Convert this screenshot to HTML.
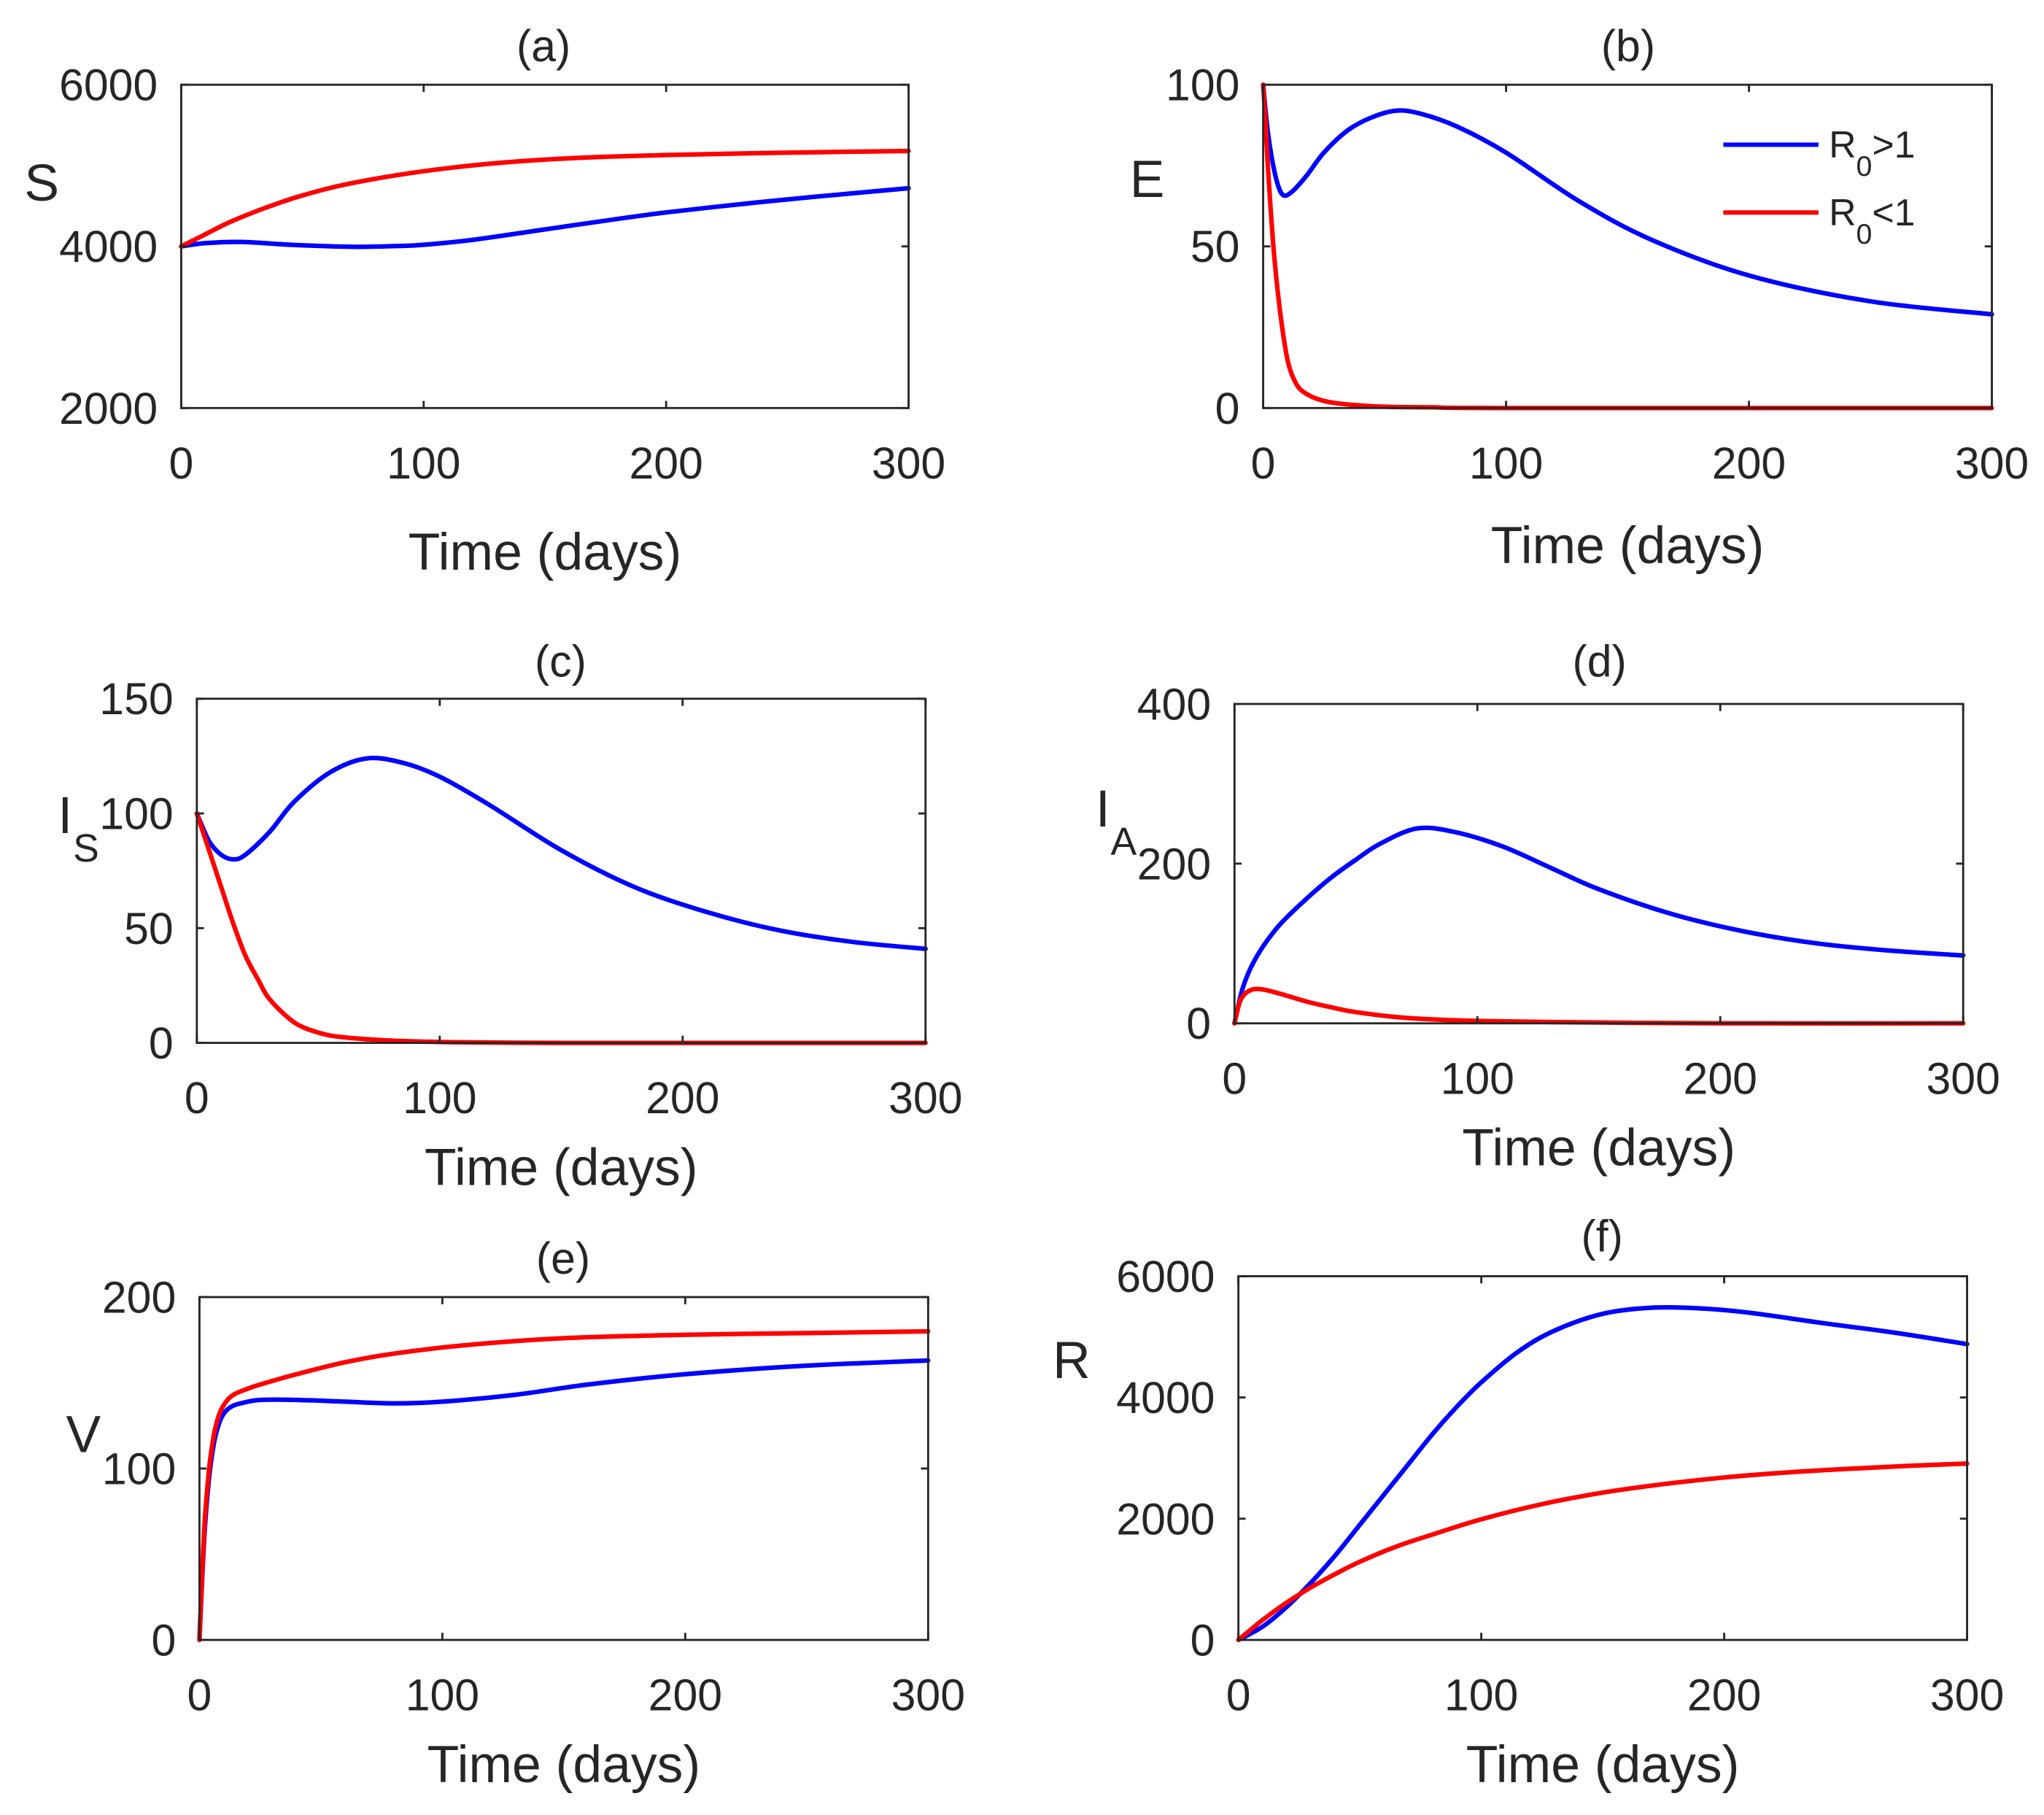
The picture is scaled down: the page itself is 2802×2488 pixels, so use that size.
<!DOCTYPE html>
<html><head><meta charset="utf-8"><style>
html,body{margin:0;padding:0;background:#fff;}
svg{display:block;}
text{font-family:"Liberation Sans",sans-serif;fill:#262626;}
</style></head><body>
<svg id="fig" width="2802" height="2488" viewBox="0 0 1568 1392.3" preserveAspectRatio="none" xmlns="http://www.w3.org/2000/svg"></svg>
<script>
// ---- data (time in days) ----
const tA_blue=[0,10,25,45,70,90,100,120,150,180,200,230,260,300];
const vA_blue=[4000,4040,4055,4020,3995,4005,4020,4080,4210,4340,4420,4520,4610,4720];
const tA_red=[0,10,20,35,50,70,100,130,160,200,250,300];
const vA_red=[4000,4150,4300,4480,4630,4780,4930,5030,5090,5130,5160,5180];

const tB_blue=[0,2,5,8,12,18,25,35,45,55,65,80,100,130,160,200,250,300];
const vB_blue=[100,85,72,66,67,72,79,86,90,92,91,87,79,64,52,41,33,29];
const tB_red=[0,1,2,4,6,8,10,12,15,20,25,30,40,50,70,100,300];
const vB_red=[100,88,74,52,36,24,15,10,6,3.5,2.2,1.5,0.8,0.4,0.2,0,0];

const tC_blue=[0,5,10,15,20,30,40,55,70,85,100,120,150,180,210,240,270,300];
const vC_blue=[100,88,82,80,82,92,105,118,124,122,116,104,84,68,57,49,44,41];
const tC_red=[0,5,10,15,20,25,30,40,50,60,80,100,150,300];
const vC_red=[100,84,68,52,38,28,19,9,4.5,2.5,1,0.4,0,0];

const tD_blue=[0,3,6,10,15,20,30,40,50,60,75,90,110,130,150,180,210,240,270,300];
const vD_blue=[0,40,65,88,110,128,157,183,205,225,244,240,222,195,168,137,115,100,91,85];
const tD_red=[0,2,4,7,10,14,20,30,40,50,70,100,150,200,300];
const vD_red=[0,25,36,42,43,41,36,27,20,14,7,3,1,0,0];

const tE_blue=[0,2,4,6,8,10,13,17,25,40,60,80,100,130,160,200,250,300];
const vE_blue=[0,60,95,115,126,132,136,138,140,140,139,138,139,143,149,155,160,163];
const tE_red=[0,2,4,6,8,10,13,17,25,40,60,80,110,150,200,250,300];
const vE_red=[0,65,100,120,131,137,142,145,149,155,162,167,172,176,178,179,180];

const tF_blue=[0,10,20,30,40,50,60,70,80,90,100,115,130,150,170,190,210,240,270,300];
const vF_blue=[0,220,550,950,1400,1900,2400,2900,3400,3850,4250,4750,5100,5380,5480,5470,5400,5230,5070,4880];
const tF_red=[0,10,20,30,40,50,65,80,100,125,150,175,200,225,250,275,300];
const vF_red=[0,330,620,870,1090,1290,1540,1740,1990,2240,2430,2570,2680,2760,2820,2870,2910];

const xTicks=[0,100,200,300];
const yTicksA=[2000,4000,6000], yTicksB=[0,50,100], yTicksC=[0,50,100,150];
const yTicksD=[0,200,400], yTicksE=[0,100,200], yTicksF=[0,2000,4000,6000];

const NS="http://www.w3.org/2000/svg";
const svg=document.getElementById('fig');
function mk(tag,attrs,parent){const e=document.createElementNS(NS,tag);for(const k in attrs)e.setAttribute(k,attrs[k]);(parent||svg).appendChild(e);return e;}
function smoothPath(P){
  let d='M'+P[0][0].toFixed(2)+','+P[0][1].toFixed(2);
  for(let i=0;i<P.length-1;i++){
    const p0=P[Math.max(0,i-1)],p1=P[i],p2=P[i+1],p3=P[Math.min(P.length-1,i+2)];
    const c1=[p1[0]+(p2[0]-p0[0])/6,p1[1]+(p2[1]-p0[1])/6];
    const c2=[p2[0]-(p3[0]-p1[0])/6,p2[1]-(p3[1]-p1[1])/6];
    d+=' C'+c1[0].toFixed(2)+','+c1[1].toFixed(2)+' '+c2[0].toFixed(2)+','+c2[1].toFixed(2)+' '+p2[0].toFixed(2)+','+p2[1].toFixed(2);
  }
  return d;
}

const panels=[
 {id:'a',x0:139,x1:697,y0:65,y1:313,ymin:2000,ymax:6000,yt:yTicksA,series:[[tA_blue,vA_blue,'#0000ff'],[tA_red,vA_red,'#ff0000']],title:[417,35],xl:423,xtl:355,yl:{x:32,y:140,t:'S'}},
 {id:'b',x0:969,x1:1528,y0:65,y1:313,ymin:0,ymax:100,yt:yTicksB,series:[[tB_blue,vB_blue,'#0000ff'],[tB_red,vB_red,'#ff0000']],title:[1249,35],xl:418,xtl:355,yl:{x:880,y:137,t:'E'}},
 {id:'c',x0:151,x1:710,y0:536,y1:800,ymin:0,ymax:150,yt:yTicksC,series:[[tC_blue,vC_blue,'#0000ff'],[tC_red,vC_red,'#ff0000']],title:[430,507],xl:895,xtl:842,yl:{x:50,y:625,t:'I',sub:'S'}},
 {id:'d',x0:947,x1:1506,y0:540,y1:785,ymin:0,ymax:400,yt:yTicksD,series:[[tD_blue,vD_blue,'#0000ff'],[tD_red,vD_red,'#ff0000']],title:[1227,507],xl:880,xtl:827,yl:{x:846,y:620,t:'I',sub:'A'}},
 {id:'e',x0:153,x1:712,y0:995,y1:1258,ymin:0,ymax:200,yt:yTicksE,series:[[tE_blue,vE_blue,'#0000ff'],[tE_red,vE_red,'#ff0000']],title:[432,965],xl:1353,xtl:1300,yl:{x:64,y:1100,t:'V'}},
 {id:'f',x0:950,x1:1509,y0:979,y1:1258,ymin:0,ymax:6000,yt:yTicksF,series:[[tF_blue,vF_blue,'#0000ff'],[tF_red,vF_red,'#ff0000']],title:[1229,948],xl:1353,xtl:1300,yl:{x:822,y:1043,t:'R'}}
];

panels.forEach(p=>{
  const g=mk('g',{});
  
  
  const sx=v=>p.x0+(v-0)/(300-0)*(p.x1-p.x0);
  const sy=v=>p.y1-(v-p.ymin)/(p.ymax-p.ymin)*(p.y1-p.y0);
  p.series.forEach((s,i)=>{
    const P=s[0].map((t,k)=>[sx(t),sy(s[1][k])]);
    const pl=mk('path',{d:smoothPath(P),fill:'none',stroke:s[2],'stroke-width':3.5,'stroke-linejoin':'round','stroke-linecap':'round'},g);
    
    
  });
  const box=mk('rect',{x:p.x0,y:p.y0,width:p.x1-p.x0,height:p.y1-p.y0,fill:'none',stroke:'#262626','stroke-width':1.6},g);
  
  
  xTicks.forEach(t=>{
    const x=sx(t);
    mk('line',{x1:x,y1:p.y1,x2:x,y2:p.y1-5.5,stroke:'#262626','stroke-width':1.6},g);
    mk('line',{x1:x,y1:p.y0,x2:x,y2:p.y0+5.5,stroke:'#262626','stroke-width':1.6},g);
    const tx=mk('text',{x:x,y:p.xtl+12,'text-anchor':'middle','font-size':34},g);
    tx.textContent=t;
    
    
  });
  p.yt.forEach(v=>{
    const y=sy(v);
    mk('line',{x1:p.x0,y1:y,x2:p.x0+5.5,y2:y,stroke:'#262626','stroke-width':1.6},g);
    mk('line',{x1:p.x1,y1:y,x2:p.x1-5.5,y2:y,stroke:'#262626','stroke-width':1.6},g);
    const tx=mk('text',{x:p.x0-18,y:y+12,'text-anchor':'end','font-size':34},g);
    tx.textContent=v;
    
    
  });
  const ti=mk('text',{x:p.title[0],y:p.title[1]+12,'text-anchor':'middle','font-size':34},g);
  ti.textContent='('+p.id+')';
  
  
  const xl=mk('text',{x:(p.x0+p.x1)/2,y:p.xl+14,'text-anchor':'middle','font-size':40},g);
  xl.textContent='Time (days)';
  
  
  const yl=mk('text',{x:p.yl.x,y:p.yl.y+14,'text-anchor':'middle','font-size':40},g);
  yl.textContent=p.yl.t;
  
  
  if(p.yl.sub){
    const sb=mk('text',{x:p.yl.x+16,y:p.yl.y+36,'text-anchor':'middle','font-size':30},g);
    sb.textContent=p.yl.sub;
    
    
  }
});

const lg=mk('g',{});


[['#0000ff','>',111],['#ff0000','<',163]].forEach(e=>{
  const ge=mk('g',{},lg);
  
  
  mk('line',{x1:1322,y1:e[2],x2:1395,y2:e[2],stroke:e[0],'stroke-width':3.4},ge);
  const t=mk('text',{x:1403,y:e[2]+10,'font-size':29},ge);
  t.innerHTML='R<tspan dy="14" font-size="22">0</tspan><tspan dy="-14">'+(e[1]==='>'?'&gt;':'&lt;')+'1</tspan>';
});
</script>
</body></html>
